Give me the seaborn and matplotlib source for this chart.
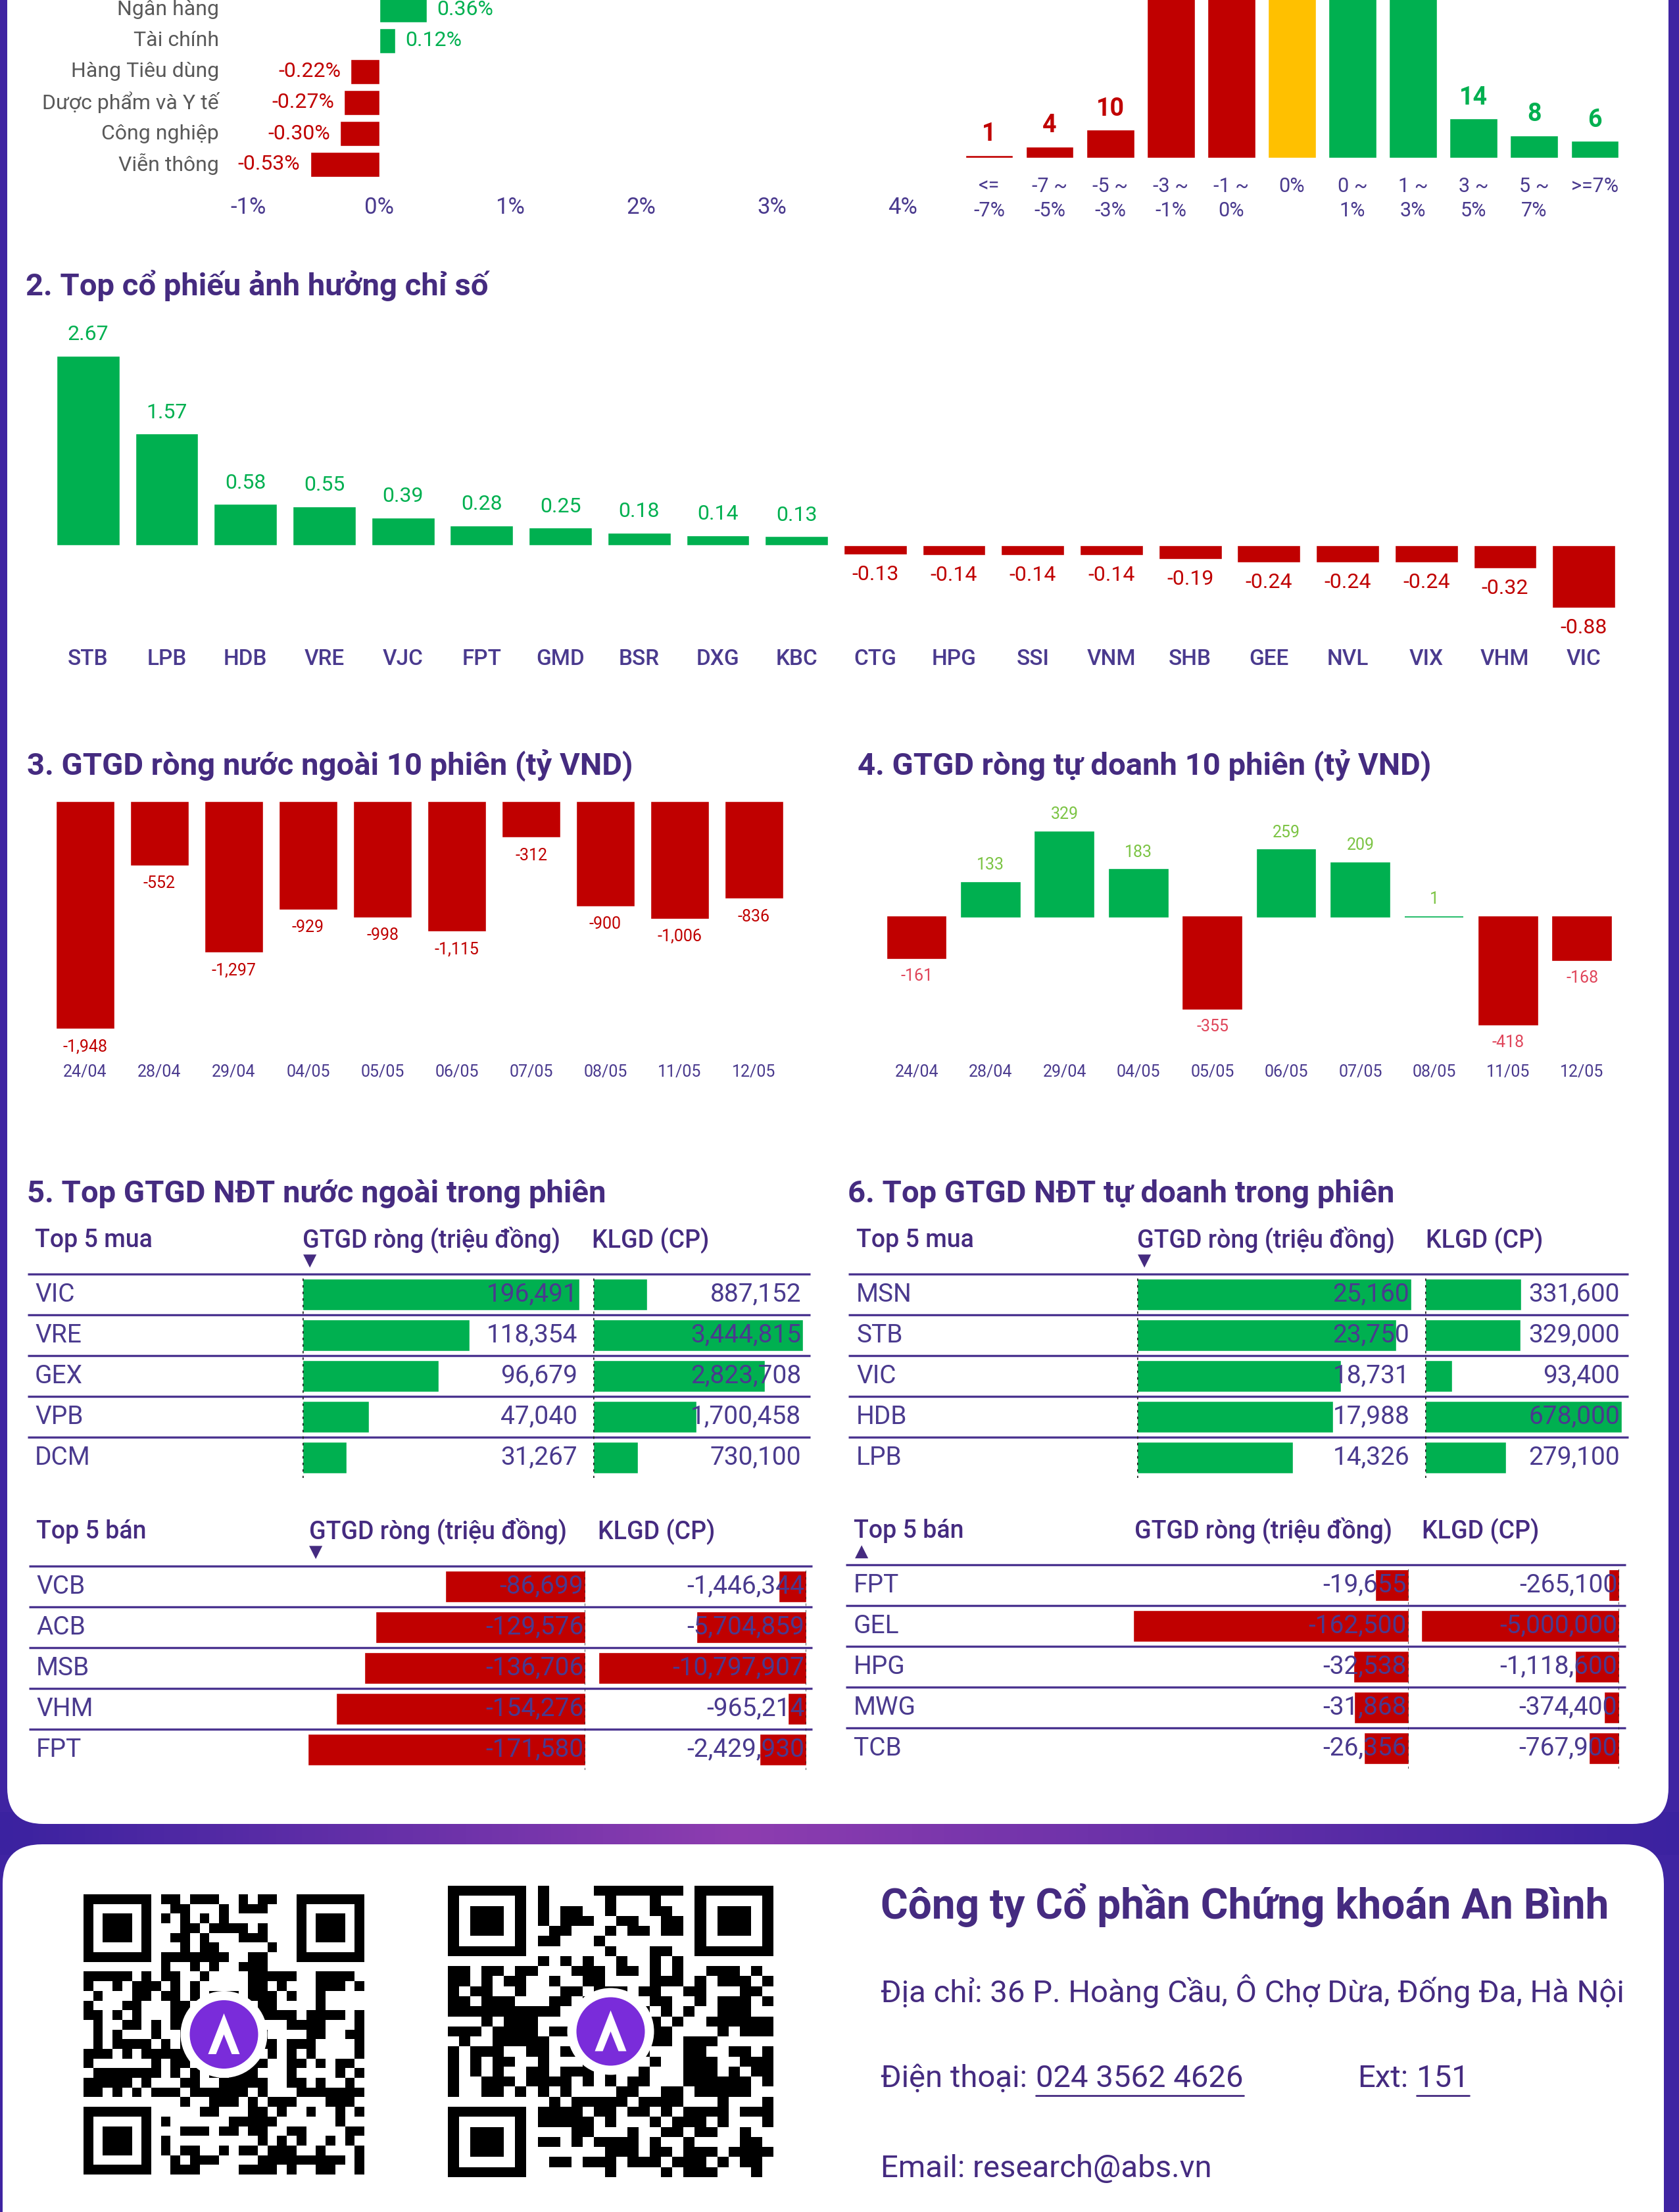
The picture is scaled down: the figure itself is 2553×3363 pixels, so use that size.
import hashlib
import numpy as np
import seaborn as sns
import matplotlib.pyplot as plt
from matplotlib.patches import FancyBboxPatch, Circle, Polygon
from matplotlib.colors import LinearSegmentedColormap
from matplotlib.transforms import blended_transform_factory as blend

# ---------------- data ----------------
sectors = ['Ngân hàng', 'Tài chính', 'Hàng Tiêu dùng', 'Dược phẩm và Y tế', 'Công nghiệp', 'Viễn thông']
sector_chg = [0.36, 0.12, -0.22, -0.27, -0.30, -0.53]

bin_labels = ['<=\n-7%', '-7 ~\n-5%', '-5 ~\n-3%', '-3 ~\n-1%', '-1 ~\n0%', '0%',
              '0 ~\n1%', '1 ~\n3%', '3 ~\n5%', '5 ~\n7%', '>=7%']
# the five tall bars are cut off by the top edge of the picture (estimated)
bin_counts = [1, 4, 10, 95, 88, 62, 84, 79, 14, 8, 6]

impact_tickers = ['STB', 'LPB', 'HDB', 'VRE', 'VJC', 'FPT', 'GMD', 'BSR', 'DXG', 'KBC',
                  'CTG', 'HPG', 'SSI', 'VNM', 'SHB', 'GEE', 'NVL', 'VIX', 'VHM', 'VIC']
impact_pts = [2.67, 1.57, 0.58, 0.55, 0.39, 0.28, 0.25, 0.18, 0.14, 0.13,
              -0.13, -0.14, -0.14, -0.14, -0.19, -0.24, -0.24, -0.24, -0.32, -0.88]

sessions = ['24/04', '28/04', '29/04', '04/05', '05/05', '06/05', '07/05', '08/05', '11/05', '12/05']
foreign_net = [-1948, -552, -1297, -929, -998, -1115, -312, -900, -1006, -836]
prop_net = [-161, 133, 329, 183, -355, 259, 209, 1, -418, -168]

f_buy_tk = ['VIC', 'VRE', 'GEX', 'VPB', 'DCM']
f_buy_val = [196491, 118354, 96679, 47040, 31267]
f_buy_vol = [887152, 3444815, 2823708, 1700458, 730100]
f_sell_tk = ['VCB', 'ACB', 'MSB', 'VHM', 'FPT']
f_sell_val = [-86699, -129576, -136706, -154276, -171580]
f_sell_vol = [-1446344, -5704859, -10797907, -965214, -2429930]

p_buy_tk = ['MSN', 'STB', 'VIC', 'HDB', 'LPB']
p_buy_val = [25160, 23750, 18731, 17988, 14326]
p_buy_vol = [331600, 329000, 93400, 678000, 279100]
p_sell_tk = ['FPT', 'GEL', 'HPG', 'MWG', 'TCB']
p_sell_val = [-19655, -162500, -32538, -31868, -26356]
p_sell_vol = [-265100, -5000000, -1118600, -374400, -767900]

# ---------------- style ----------------
GREEN, RED, YELLOW = '#00B050', '#C00000', '#FFC000'
PURPLE = '#3F24A2'
TITLE = '#452B80'
TXT = '#4A3A8E'
W, H = 2553, 3363

sns.set_style('white')
plt.rcParams['font.family'] = ['Roboto', 'DejaVu Sans']

fig = plt.figure(figsize=(W / 100, H / 100), dpi=100)
fig.patch.set_facecolor(PURPLE)

# background axes in pixel coordinates (y down)
bg = fig.add_axes([0, 0, 1, 1])
bg.set_xlim(0, W)
bg.set_ylim(H, 0)
bg.axis('off')
bg.set_autoscale_on(False)

band = LinearSegmentedColormap.from_list('band', [(0, '#3B22A0'), (0.44, '#8E3DB0'), (1, '#3B22A0')])
bg.imshow(np.linspace(0, 1, 512)[None, :], cmap=band, extent=[0, W, 2820, 2755], aspect='auto', zorder=0)
bg.add_patch(FancyBboxPatch((11, -200), 2526, 2973, boxstyle='round,pad=0,rounding_size=55',
                            fc='white', ec='none', zorder=1))
bg.add_patch(FancyBboxPatch((4, 2804), 2526, 700, boxstyle='round,pad=0,rounding_size=60',
                            fc='white', ec='none', zorder=1))


def px_axes(x0, y0, x1, y1):
    ax = fig.add_axes([x0 / W, 1 - y1 / H, (x1 - x0) / W, (y1 - y0) / H])
    ax.axis('off')
    return ax


def title(x, y, s):
    bg.text(x, y, s, fontsize=34, fontweight='bold', color=TITLE, va='center', ha='left', zorder=3)


# ---------------- 1a. sector change ----------------
ax = px_axes(298.4, -8.5, 1412.8, 273.5)
sns.barplot(x=sector_chg, y=sectors, hue=sectors, orient='h', width=0.8, legend=False, saturation=1,
            palette=[GREEN if v > 0 else RED for v in sector_chg], ax=ax)
ax.set_xlim(-1.4, 4.2)
ax.set_ylim(5.5, -0.5)
ax.axis('off')
for i, v in enumerate(sector_chg):
    ax.annotate(f'{v:.2f}%', (v, i), xytext=(11 if v > 0 else -11, 0), textcoords='offset points',
                ha='left' if v > 0 else 'right', va='center', fontsize=23,
                color=GREEN if v > 0 else RED)
    ax.text(333, i, sectors[i], transform=blend(bg.transData, ax.transData),
            ha='right', va='center', fontsize=23, color='#595959')
for t in range(-1, 5):
    ax.text(t, 315, f'{t}%', transform=blend(ax.transData, bg.transData),
            ha='center', va='center', fontsize=25, color=TXT)

# ---------------- 1b. distribution ----------------
ax = px_axes(1457.95, -16, 2471, 240)
bin_col = [RED] * 5 + [YELLOW] + [GREEN] * 5
sns.barplot(x=bin_labels, y=bin_counts, hue=bin_labels, palette=bin_col, width=0.79, legend=False,
            saturation=1, ax=ax)
ax.set_xlim(-0.5, 10.5)
ax.set_ylim(0, 60)
ax.axis('off')
for i, v in enumerate(bin_counts):
    ax.annotate(str(v), (i, v), xytext=(0, 23), textcoords='offset points', ha='center', va='center',
                fontsize=27, fontweight='bold', color=bin_col[i])
    for k, line in enumerate(bin_labels[i].split('\n')):
        ax.text(i, 283 + 37 * k, line, transform=blend(ax.transData, bg.transData),
                ha='center', va='center', fontsize=22, color=TXT)

# ---------------- 2. index impact ----------------
title(39, 434, '2. Top cổ phiếu ảnh hưởng chỉ số')
ax = px_axes(74, 483.4, 2468, 958.6)
sns.barplot(x=impact_tickers, y=impact_pts, hue=impact_tickers, width=0.8, legend=False, saturation=1,
            palette=[GREEN if v > 0 else RED for v in impact_pts], ax=ax)
ax.set_xlim(-0.5, 19.5)
ax.set_ylim(-1.2, 3.2)
ax.axis('off')
for i, v in enumerate(impact_pts):
    ax.annotate(f'{v:.2f}', (i, v), xytext=(0, 23 if v > 0 else -22), textcoords='offset points',
                ha='center', va='center', fontsize=23, color=GREEN if v > 0 else RED)
    ax.text(i, 1002, impact_tickers[i], transform=blend(ax.transData, bg.transData),
            ha='center', va='center', fontsize=24, fontweight='medium', color=TXT)

# ---------------- 3. foreign net ----------------
title(41, 1163, '3. GTGD ròng nước ngoài 10 phiên (tỷ VND)')
ax = px_axes(73, 1218, 1203, 1591)
sns.barplot(x=sessions, y=foreign_net, color=RED, saturation=1, width=0.79, ax=ax)
ax.set_xlim(-0.5, 9.5)
ax.set_ylim(-2100, 0)
ax.axis('off')
for i, v in enumerate(foreign_net):
    ax.annotate(f'{v:,}', (i, v), xytext=(0, -19.5), textcoords='offset points',
                ha='center', va='center', fontsize=18, color=RED)
    ax.text(i, 1630, sessions[i], transform=blend(ax.transData, bg.transData),
            ha='center', va='center', fontsize=18, color=TXT)

# ---------------- 4. proprietary net ----------------
title(1304, 1163, '4. GTGD ròng tự doanh 10 phiên (tỷ VND)')
ax = px_axes(1337.8, 1256.45, 2461.8, 1570.85)
sns.barplot(x=sessions, y=prop_net, hue=sessions, width=0.79, legend=False, saturation=1,
            palette=[GREEN if v > 0 else RED for v in prop_net], ax=ax)
for p in ax.patches:
    p.set_edgecolor(p.get_facecolor())
    p.set_linewidth(1.2)
ax.set_xlim(-0.5, 9.5)
ax.set_ylim(-450, 350)
ax.axis('off')
for i, v in enumerate(prop_net):
    ax.annotate(f'{v:,}', (i, v), xytext=(0, 19 if v > 0 else -19.5), textcoords='offset points',
                ha='center', va='center', fontsize=18, color='#7CC444' if v > 0 else '#E0455A')
    ax.text(i, 1630, sessions[i], transform=blend(ax.transData, bg.transData),
            ha='center', va='center', fontsize=18, color=TXT)

# ---------------- 5/6. tables ----------------
title(41, 1815, '5. Top GTGD NĐT nước ngoài trong phiên')
title(1289, 1815, '6. Top GTGD NĐT tự doanh trong phiên')

ROW = 62


def table(tickers, vals, vols, top, label_x, gt, kl, lines, head_y, heads, arrow):
    # header
    bg.text(label_x, head_y, heads[0], fontsize=27, fontweight='medium', color=TITLE, va='center', zorder=3)
    bg.text(heads[1], head_y, 'GTGD ròng (triệu đồng)', fontsize=27, fontweight='medium', color=TITLE,
            va='center', zorder=3)
    bg.text(heads[2], head_y, 'KLGD (CP)', fontsize=27, fontweight='medium', color=TITLE, va='center', zorder=3)
    bg.text(arrow[0], head_y + 32, arrow[1], fontsize=19, color=TITLE, ha='center', va='center', zorder=3,
            family=['DejaVu Sans'])
    for k in range(5):
        bg.plot(lines, [top + k * ROW] * 2, color='#4B3590', lw=2.4, zorder=3, solid_capstyle='butt')
    sell = vals[0] < 0
    for (x0, x1), data in ((gt, vals), (kl, vols)):
        ax = px_axes(x0, top, x1, top + 5 * ROW)
        sns.barplot(x=data, y=tickers, orient='h', color=RED if sell else GREEN, saturation=1,
                    width=0.77, ax=ax)
        m = max(abs(d) for d in data)
        ax.set_xlim((-m, 0) if sell else (0, m))
        ax.set_ylim(4.5, -0.5)
        ax.axis('off')
        ax.axvline(0, color='#222222', lw=1.8, ls=(0, (1.5, 2.5)), ymin=0, ymax=1)
        for i, d in enumerate(data):
            ax.annotate(f'{d:,}', (1, i), xycoords=ax.get_yaxis_transform(), xytext=(-2, 0),
                        textcoords='offset points', ha='right', va='center', fontsize=28, color=TXT)
    for i, t in enumerate(tickers):
        bg.text(label_x, top + ROW * (i + 0.5), t, fontsize=28, color=TXT, va='center', ha='left', zorder=3)


table(f_buy_tk, f_buy_val, f_buy_vol, 1937, 53, (460, 881), (902, 1221), (42, 1232), 1885,
      ('Top 5 mua', 460, 900), (471, '▼'))
table(f_sell_tk, f_sell_val, f_sell_vol, 2381, 55, (468, 890), (910, 1226), (44, 1235), 2328,
      ('Top 5 bán', 470, 909), (480, '▼'))
table(p_buy_tk, p_buy_val, p_buy_vol, 1937, 1302, (1729, 2146), (2167, 2466), (1290, 2476), 1885,
      ('Top 5 mua', 1729, 2168), (1740, '▼'))
table(p_sell_tk, p_sell_val, p_sell_vol, 2379, 1298, (1723, 2141.5), (2161, 2462), (1286, 2472), 2327,
      ('Top 5 bán', 1725, 2162), (1310, '▲'))


# ---------------- footer ----------------
def qr_modules(text, n=29):
    raw = b''
    k = 0
    while len(raw) * 8 < n * n:
        raw += hashlib.sha256(f'{text}-{k}'.encode()).digest()
        k += 1
    m = np.unpackbits(np.frombuffer(raw, dtype=np.uint8))[:n * n].reshape(n, n).astype(float)
    for r, c in [(0, 0), (0, n - 7), (n - 7, 0)]:
        r0, r1 = max(r - 1, 0), min(r + 8, n)
        c0, c1 = max(c - 1, 0), min(c + 8, n)
        m[r0:r1, c0:c1] = 0
        m[r:r + 7, c:c + 7] = 1
        m[r + 1:r + 6, c + 1:c + 6] = 0
        m[r + 2:r + 5, c + 2:c + 5] = 1
    return m


def qr(x0, y0, x1, y1, text):
    bg.imshow(qr_modules(text), cmap='gray_r', vmin=0, vmax=1, extent=[x0, x1, y1, y0],
              interpolation='nearest', aspect='auto', zorder=2)
    cx, cy = (x0 + x1) / 2, (y0 + y1) / 2
    bg.add_patch(Circle((cx, cy), 66, fc='white', ec='none', zorder=3))
    bg.add_patch(Circle((cx, cy), 52, fc='#7A2CDA', ec='none', zorder=4))
    bg.add_patch(Polygon([(cx - 24, cy + 30), (cx, cy - 32), (cx + 24, cy + 30), (cx + 12, cy + 30),
                          (cx, cy), (cx - 12, cy + 30)], closed=True, fc='white', ec='none', zorder=5))


qr(127, 2880, 554, 3306, 'https://www.abs.vn')
qr(681, 2867, 1176, 3310, 'https://zalo.me/abs')

bg.text(1339, 2896, 'Công ty Cổ phần Chứng khoán An Bình', fontsize=46, fontweight='bold',
        color=TITLE, va='center', zorder=3)
bg.text(1339, 3027, 'Địa chỉ: 36 P. Hoàng Cầu, Ô Chợ Dừa, Đống Đa, Hà Nội', fontsize=34,
        color=TITLE, va='center', zorder=3)
bg.text(1339, 3160, 'Điện thoại:', fontsize=34, color=TITLE, va='center', zorder=3)
bg.text(2064, 3160, 'Ext:', fontsize=34, color=TITLE, va='center', zorder=3)
bg.text(1339, 3297, 'Email: research@abs.vn', fontsize=34, color=TITLE, va='center', zorder=3)
renderer = fig.canvas.get_renderer()
for x, s in ((1575, '024 3562 4626'), (2154, '151')):
    t = bg.text(x, 3160, s, fontsize=34, color=TITLE, va='center', zorder=3)
    bb = t.get_window_extent(renderer)
    bg.plot([x, x + bb.width], [3186, 3186], color=TITLE, lw=2, zorder=3)

fig.savefig('out.png', dpi=100, facecolor=fig.get_facecolor())
